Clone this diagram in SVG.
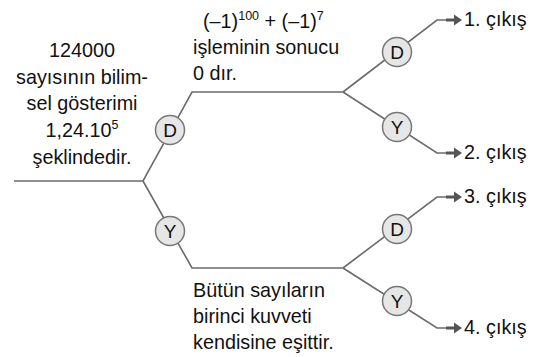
<svg xmlns="http://www.w3.org/2000/svg" width="558" height="357" viewBox="0 0 558 357">
<defs>
<style>
text{font-family:"Liberation Sans",Arial,sans-serif;font-size:19.8px;fill:#111}
.sup{font-size:12.5px}
.ln{fill:none;stroke:#6b6b6b;stroke-width:1.6}
.nd circle{fill:#e6e6e6;stroke:#777;stroke-width:1.5}
.nd text{font-size:19px;text-anchor:middle}
</style>
</defs>
<rect width="558" height="357" fill="#fff"/>
<g id="connectors">
<path class="ln" d="M14,181 L143,181 L192,92 L343,92"/>
<path class="ln" d="M143,181 L192,268 L343,268"/>
<path class="ln" d="M343,92 L437,20 L449,20"/>
<path class="ln" d="M343,92 L437,153 L449,153"/>
<path class="ln" d="M343,268 L437,197 L449,197"/>
<path class="ln" d="M343,268 L437,328 L449,328"/>
<g fill="#555">
<path d="M446,18.5 h8 v-4 l8,5.5 l-8,5.5 v-4 h-8 z"/>
<path d="M446,151.5 h8 v-4 l8,5.5 l-8,5.5 v-4 h-8 z"/>
<path d="M446,195.5 h8 v-4 l8,5.5 l-8,5.5 v-4 h-8 z"/>
<path d="M446,326.5 h8 v-4 l8,5.5 l-8,5.5 v-4 h-8 z"/>
</g>
</g>
<g id="q1">
<text x="82" y="57" text-anchor="middle">124000</text>
<text x="82" y="84" text-anchor="middle">sayısının bilim-</text>
<text x="82" y="110" text-anchor="middle">sel gösterimi</text>
<text x="82" y="137" text-anchor="middle">1,24.10<tspan class="sup" dy="-8">5</tspan></text>
<text x="82" y="164" text-anchor="middle">şeklindedir.</text>
</g>
<g id="q2">
<text x="203" y="28">(–1)<tspan class="sup" dy="-8">100</tspan><tspan dy="8"> + (–1)</tspan><tspan class="sup" dy="-8">7</tspan></text>
<text x="193" y="54">işleminin sonucu</text>
<text x="193" y="80">0 dır.</text>
</g>
<g id="q3">
<text x="193" y="297">Bütün sayıların</text>
<text x="193" y="323">birinci kuvveti</text>
<text x="193" y="349">kendisine eşittir.</text>
</g>
<g id="n1" class="nd"><circle cx="170" cy="130" r="14.5"/><text x="170" y="137">D</text></g>
<g id="n2" class="nd"><circle cx="170" cy="231" r="14.5"/><text x="170" y="238">Y</text></g>
<g id="n3" class="nd"><circle cx="397" cy="52" r="14.5"/><text x="397" y="59">D</text></g>
<g id="n4" class="nd"><circle cx="397" cy="127" r="14.5"/><text x="397" y="134">Y</text></g>
<g id="n5" class="nd"><circle cx="397" cy="229" r="14.5"/><text x="397" y="236">D</text></g>
<g id="n6" class="nd"><circle cx="397" cy="301" r="14.5"/><text x="397" y="308">Y</text></g>
<g id="o1"><text x="464" y="26">1. çıkış</text></g>
<g id="o2"><text x="464" y="159">2. çıkış</text></g>
<g id="o3"><text x="464" y="203">3. çıkış</text></g>
<g id="o4"><text x="464" y="334">4. çıkış</text></g>
</svg>
